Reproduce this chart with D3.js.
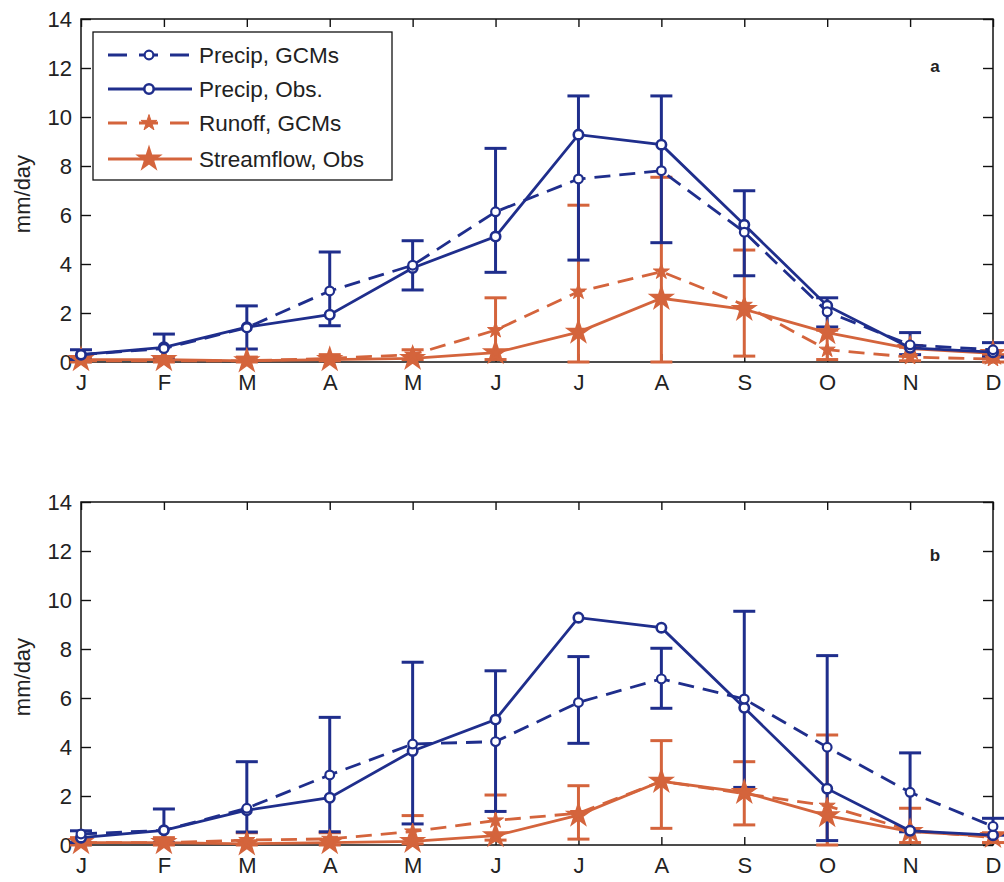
<!DOCTYPE html>
<html>
<head>
<meta charset="utf-8">
<script src="https://cdn.jsdelivr.net/npm/d3@7"></script>
<style>
  html, body { margin: 0; padding: 0; background: #fff; }
  svg { display: block; font-family: "Liberation Sans", Arial, sans-serif; }
</style>
</head>
<body>
<svg id="chart" width="1004" height="882"></svg>
<script>
// Monthly climatology (mm/day)
const months = ["J", "F", "M", "A", "M", "J", "J", "A", "S", "O", "N", "D"];
const yTicks = [0, 2, 4, 6, 8, 10, 12, 14];

// Observed series (shared by both panels)
const precipObs     = [0.3, 0.6, 1.42, 1.93, 3.84, 5.12, 9.28, 8.87, 5.6, 2.3, 0.58, 0.4];
const streamflowObs = [0.1, 0.1, 0.05, 0.1, 0.15, 0.38, 1.22, 2.6, 2.15, 1.2, 0.55, 0.35];

// Panel a: GCM ensemble
const precipGcmA  = [0.3, 0.55, 1.4, 2.9, 3.95, 6.13, 7.47, 7.81, 5.3, 2.05, 0.7, 0.5];
const precipLoA   = [0.1, 0.1, 0.53, 1.48, 2.94, 3.66, 4.16, 4.87, 3.52, 1.43, 0.3, 0.2];
const precipHiA   = [0.5, 1.14, 2.29, 4.49, 4.95, 8.72, 10.86, 10.86, 6.99, 2.62, 1.2, 0.79];
const runoffGcmA  = [0.05, 0.05, 0.05, 0.15, 0.3, 1.3, 2.87, 3.69, 2.33, 0.5, 0.2, 0.12];
const runoffLoA   = [0.0, 0.0, 0.0, 0.05, 0.1, 0.1, 0.0, 0.0, 0.24, 0.1, 0.05, 0.0];
const runoffHiA   = [0.15, 0.2, 0.2, 0.3, 0.5, 2.62, 6.4, 7.54, 4.57, 1.3, 0.6, 0.3];

// Panel b: GCM ensemble
const precipGcmB  = [0.45, 0.6, 1.5, 2.86, 4.12, 4.22, 5.82, 6.78, 5.96, 3.99, 2.15, 0.76];
const precipLoB   = [0.1, 0.1, 0.53, 0.54, 0.86, 1.37, 4.15, 5.58, 2.35, 0.18, 0.54, 0.4];
const precipHiB   = [0.58, 1.47, 3.4, 5.21, 7.46, 7.11, 7.69, 8.03, 9.54, 7.73, 3.76, 1.09];
const runoffGcmB  = [0.1, 0.1, 0.2, 0.25, 0.55, 1.0, 1.3, 2.6, 2.1, 1.6, 0.6, 0.3];
const runoffLoB   = [0.0, 0.0, 0.0, 0.0, 0.05, 0.2, 0.24, 0.68, 0.82, 0.0, 0.1, 0.1];
const runoffHiB   = [0.3, 0.3, 0.5, 0.5, 1.2, 2.04, 2.42, 4.26, 3.4, 4.49, 1.5, 0.5];

const legendLabels = ["Precip, GCMs", "Precip, Obs.", "Runoff, GCMs", "Streamflow, Obs"];

const BLUE = "#1f2e8c";
const ORANGE = "#d4643c";

const svg = d3.select("#chart");

const panels = [
  { top: 19, label: "a", gcm: precipGcmA, pLo: precipLoA, pHi: precipHiA,
    run: runoffGcmA, rLo: runoffLoA, rHi: runoffHiA, legend: true },
  { top: 502, label: "b", gcm: precipGcmB, pLo: precipLoB, pHi: precipHiB,
    run: runoffGcmB, rLo: runoffLoB, rHi: runoffHiB, legend: false }
];

const left = 81, right = 993, plotH = 343;

const x = d3.scalePoint().domain(d3.range(12)).range([left, right]);

function drawPanel(p) {
  const g = svg.append("g");
  const y = d3.scaleLinear().domain([0, 14]).range([p.top + plotH, p.top]);

  // axes with inward ticks on all four sides
  const axStyle = sel => {
    sel.select(".domain").remove();
    sel.selectAll("line").attr("stroke", "#111").attr("stroke-width", 1.4);
    sel.selectAll("text").attr("fill", "#222").style("font-size", "22px");
  };
  g.append("g").attr("transform", `translate(${left},0)`)
    .call(d3.axisLeft(y).tickValues(yTicks).tickSize(-10).tickPadding(9).tickFormat(d3.format("d")))
    .call(axStyle);
  g.append("g").attr("transform", `translate(${right},0)`)
    .call(d3.axisRight(y).tickValues(yTicks).tickSize(-10).tickFormat(""))
    .call(axStyle);
  g.append("g").attr("transform", `translate(0,${p.top + plotH})`)
    .call(d3.axisBottom(x).tickSize(-8).tickPadding(12).tickFormat(i => months[i]))
    .call(axStyle);
  g.append("g").attr("transform", `translate(0,${p.top})`)
    .call(d3.axisTop(x).tickSize(-8).tickFormat(""))
    .call(axStyle);
  g.append("rect")
    .attr("x", left).attr("y", p.top).attr("width", right - left).attr("height", plotH)
    .attr("fill", "none").attr("stroke", "#111").attr("stroke-width", 1.5);

  // y label
  g.append("text")
    .attr("transform", `translate(30,${p.top + 175}) rotate(-90)`)
    .attr("text-anchor", "middle").style("font-size", "22px").attr("fill", "#222")
    .text("mm/day");

  // panel letter
  g.append("text").attr("x", 935).attr("y", p.top + (p.label === "a" ? 53 : 59))
    .attr("text-anchor", "middle").style("font-size", "17px").style("font-weight", "bold")
    .attr("fill", "#222").text(p.label);

  const line = d3.line().x((d, i) => x(i)).y(d => y(d));

  function errorBars(lo, hi, color) {
    const eg = g.append("g").attr("stroke", color).attr("stroke-width", 3);
    d3.range(12).forEach(i => {
      eg.append("line").attr("x1", x(i)).attr("x2", x(i)).attr("y1", y(lo[i])).attr("y2", y(hi[i]));
      [lo[i], hi[i]].forEach(v => {
        eg.append("line").attr("x1", x(i) - 11).attr("x2", x(i) + 11).attr("y1", y(v)).attr("y2", y(v));
      });
    });
  }

  errorBars(p.rLo, p.rHi, ORANGE);
  errorBars(p.pLo, p.pHi, BLUE);

  function series(values, color, dashed, marker) {
    g.append("path").datum(values).attr("d", line)
      .attr("fill", "none").attr("stroke", color).attr("stroke-width", 2.8)
      .attr("stroke-dasharray", dashed ? "16,9" : null);
    g.append("g").selectAll("path").data(values).join("path")
      .attr("transform", (d, i) => `translate(${x(i)},${y(d)})`)
      .call(marker);
  }

  const circle = (sel) => sel.attr("d", d3.symbol(d3.symbolCircle, 60)())
    .attr("fill", "#fff").attr("stroke", BLUE).attr("stroke-width", 2.2);
  const circleObs = (sel) => sel.attr("d", d3.symbol(d3.symbolCircle, 70)())
    .attr("fill", "#fff").attr("stroke", BLUE).attr("stroke-width", 2.6);
  const starThin = (sel) => sel.attr("d", d3.symbol(d3.symbolStar, 80)())
    .attr("fill", ORANGE).attr("stroke", ORANGE).attr("stroke-width", 1);
  const starBold = (sel) => sel.attr("d", d3.symbol(d3.symbolStar, 120)())
    .attr("fill", ORANGE).attr("stroke", ORANGE).attr("stroke-width", 2.5);

  series(streamflowObs, ORANGE, false, starBold);
  series(p.run, ORANGE, true, starThin);
  series(precipObs, BLUE, false, circleObs);
  series(p.gcm, BLUE, true, circle);

  if (p.legend) {
    const lg = g.append("g");
    lg.append("rect").attr("x", 93).attr("y", 32).attr("width", 299).attr("height", 148)
      .attr("fill", "#fff").attr("stroke", "#111").attr("stroke-width", 1.3);
    const rowsY = [55, 89, 123, 159];
    const styles = [
      { color: BLUE, dashed: true, marker: circle },
      { color: BLUE, dashed: false, marker: circleObs },
      { color: ORANGE, dashed: true, marker: starThin },
      { color: ORANGE, dashed: false, marker: starBold }
    ];
    legendLabels.forEach((t, k) => {
      const s = styles[k];
      lg.append("line").attr("x1", 108).attr("x2", 192).attr("y1", rowsY[k]).attr("y2", rowsY[k])
        .attr("stroke", s.color).attr("stroke-width", 2.8)
        .attr("stroke-dasharray", s.dashed ? "19,12" : null);
      lg.append("path").attr("transform", `translate(149,${rowsY[k]})`).call(s.marker);
      lg.append("text").attr("x", 199).attr("y", rowsY[k] + 8)
        .style("font-size", "22.5px").attr("fill", "#222").text(t);
    });
  }
}

panels.forEach(drawPanel);
</script>
</body>
</html>
